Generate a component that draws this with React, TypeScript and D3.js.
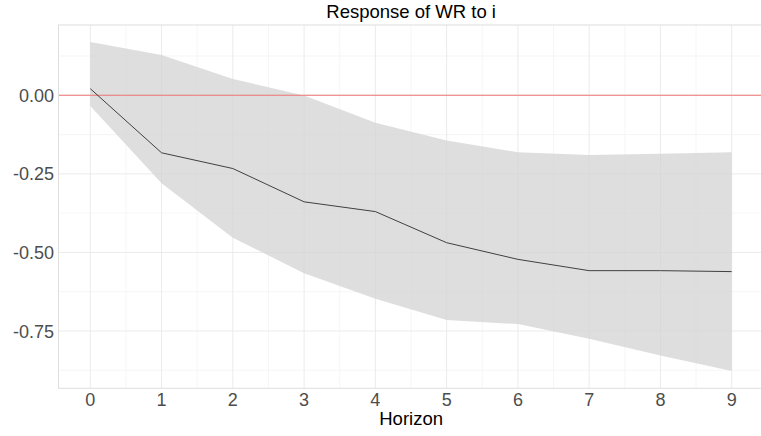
import React from "react";
import * as d3 from "d3";

const horizon = [0, 1, 2, 3, 4, 5, 6, 7, 8, 9];
const response = [0.021, -0.183, -0.233, -0.339, -0.37, -0.469, -0.522, -0.558, -0.558, -0.561];
const upper = [0.17, 0.128, 0.052, -0.001, -0.087, -0.144, -0.181, -0.19, -0.186, -0.181];
const lower = [-0.034, -0.28, -0.453, -0.566, -0.647, -0.715, -0.728, -0.775, -0.828, -0.877];
const yTicks = [0, -0.25, -0.5, -0.75];
const yMinor = [0.125, -0.125, -0.375, -0.625, -0.875];
const xMinor = [0.5, 1.5, 2.5, 3.5, 4.5, 5.5, 6.5, 7.5, 8.5];
const title = "Response of WR to i";
const xTitle = "Horizon";

const W = 761;
const H = 436;
const FONT = "'Liberation Sans', Arial, Helvetica, sans-serif";

export default function App() {
  const left = 58.5;
  const top = 25;
  const bottom = 388.3;
  const x = d3.scaleLinear().domain([0, 9]).range([90.3, 731.7]);
  const y = d3.scaleLinear().domain([0, -0.75]).range([95.3, 331]);
  const right = x(9.45);

  const data = horizon.map((h, i) => ({ h, r: response[i], u: upper[i], l: lower[i] }));
  const area = d3
    .area<any>()
    .x((d) => x(d.h))
    .y0((d) => y(d.l))
    .y1((d) => y(d.u));
  const line = d3
    .line<any>()
    .x((d) => x(d.h))
    .y((d) => y(d.r));

  const fmt = (v: number) => d3.format(".2f")(v).replace("\u2212", "-");

  return (
    <svg
      width={W}
      height={H}
      style={{ position: "absolute", left: 0, top: 0, background: "#fff" }}
      fontFamily={FONT}
    >
      {/* minor grid */}
      {yMinor.map((v) => (
        <line key={"ym" + v} x1={left} x2={right} y1={y(v)} y2={y(v)} stroke="#f4f4f4" strokeWidth={0.8} />
      ))}
      {xMinor.map((v) => (
        <line key={"xm" + v} x1={x(v)} x2={x(v)} y1={top} y2={bottom} stroke="#f4f4f4" strokeWidth={0.8} />
      ))}
      {/* major grid */}
      {yTicks.map((v) => (
        <line key={"yM" + v} x1={left} x2={right} y1={y(v)} y2={y(v)} stroke="#ebebeb" strokeWidth={1} />
      ))}
      {horizon.map((v) => (
        <line key={"xM" + v} x1={x(v)} x2={x(v)} y1={top} y2={bottom} stroke="#ebebeb" strokeWidth={1} />
      ))}

      <path d={area(data) || ""} fill="#d3d3d3" fillOpacity={0.75} />
      <line x1={left} x2={right} y1={y(0)} y2={y(0)} stroke="#f07575" strokeWidth={1.1} />
      <path d={line(data) || ""} fill="none" stroke="#404040" strokeWidth={1} />

      {/* panel border */}
      <rect x={left} y={top} width={right - left} height={bottom - top} fill="none" stroke="#dedede" strokeWidth={1} />

      {/* y tick labels */}
      {yTicks.map((v) => (
        <text key={"yl" + v} x={54} y={y(v) + 6.5} textAnchor="end" fontSize={18} fill="#4d4d4d">
          {fmt(v)}
        </text>
      ))}
      {/* x tick labels */}
      {horizon.map((v) => (
        <text key={"xl" + v} x={x(v)} y={405.5} textAnchor="middle" fontSize={18} fill="#4d4d4d">
          {v}
        </text>
      ))}
      <text x={(left + right) / 2} y={425} textAnchor="middle" fontSize={18.5} fill="#000">
        {xTitle}
      </text>
      <text x={(left + right) / 2} y={18.3} textAnchor="middle" fontSize={18.5} fill="#000">
        {title}
      </text>
    </svg>
  );
}
